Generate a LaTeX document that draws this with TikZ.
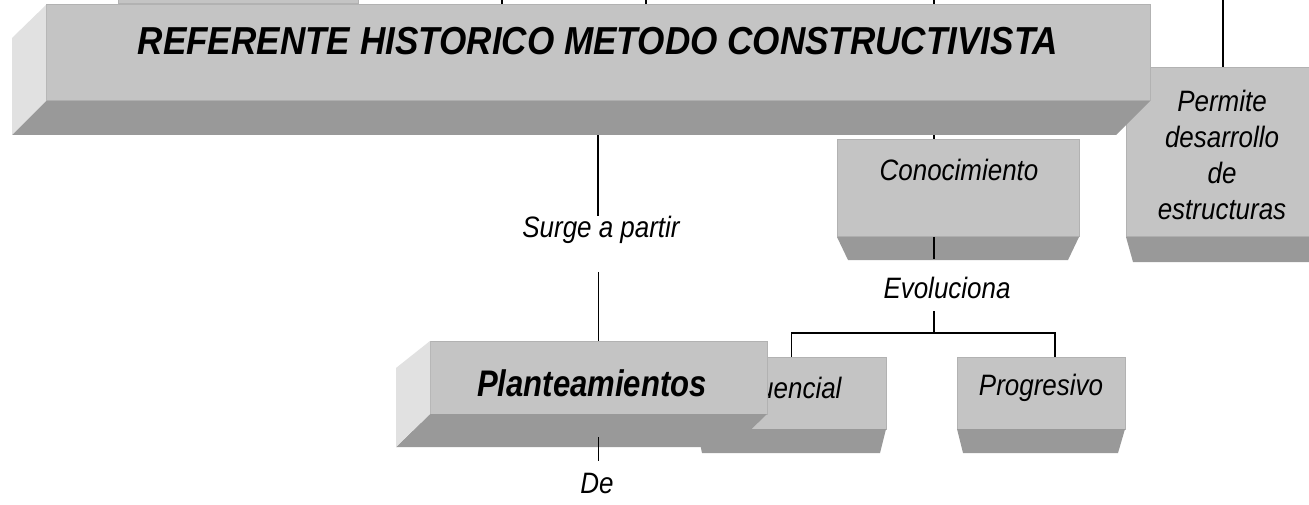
\documentclass[tikz,border=0pt]{standalone}
\usepackage{fontspec}
\setmainfont{Liberation Sans}
\newfontfamily\lblfont[FakeStretch=0.88]{Liberation Sans}
\newfontfamily\titlefont[FakeStretch=0.9]{Liberation Sans}
\newfontfamily\plantfont[FakeStretch=0.84]{Liberation Sans}
\usetikzlibrary{calc}
\pgfdeclarelayer{bg}
\pgfdeclarelayer{back}
\pgfsetlayers{bg,back,main}
\definecolor{facegray}{HTML}{C4C4C4}
\definecolor{sidegray}{HTML}{E1E1E1}
\definecolor{botgray}{HTML}{999999}
\definecolor{edgegray}{HTML}{B2B2B2}
\begin{document}
\begin{tikzpicture}[x=1pt,y=-1pt,
  face/.style={rectangle, fill=facegray, draw=edgegray, line width=1pt, inner sep=0pt, outer sep=0pt},
  lbl/.style={font=\lblfont\fontsize{29.5}{36}\selectfont\itshape, inner sep=0pt, align=center},
  conn/.style={draw=black, line width=1.5pt}]
\useasboundingbox (0,0) rectangle (1309,505);
\begin{pgfonlayer}{bg}
\fill[white] (0,0) rectangle (1309,505);
\end{pgfonlayer}

\coordinate (t1) at (502,0);
\coordinate (t2) at (646,0);
\coordinate (t3) at (934,0);
\coordinate (t4) at (1223,0);

% partial box at the top edge
\node[face, minimum width=240pt, minimum height=24pt] (topbox) at (238,-8) {};

% Permite box
\node[face, minimum width=204pt, minimum height=169pt] (perm) at (1228,152.5) {};
\fill[botgray] (perm.south west) -- (perm.south east) -- ++(-9,25) -- ($(perm.south west)+(7,25)$) -- cycle;
\node[lbl] (permt) at (1222,154.5) {Permite\\desarrollo\\de\\estructuras};

% main box
\node[face, minimum width=1104pt, minimum height=96pt] (main) at (598,53) {};
\fill[botgray] (main.south west) -- (main.south east) -- ++(-34,34) -- ($(main.south west)+(-34,34)$) -- cycle;
\fill[sidegray] (main.north west) -- (main.south west) -- ++(-34,34) -- ($(main.north west)+(-34,33)$) -- cycle;
\node[font=\titlefont\fontsize{39}{44}\selectfont\bfseries\itshape, inner sep=0pt] (title) at (598,41) {REFERENTE HISTORICO METODO CONSTRUCTIVISTA};

% Conocimiento box
\node[face, minimum width=242pt, minimum height=97pt] (conoc) at (958,188.5) {};
\fill[botgray] (conoc.south west) -- (conoc.south east) -- ++(-11,23) -- ($(conoc.south west)+(11,23)$) -- cycle;
\node[lbl] (conoct) at (959,170) {Conocimiento};

% labels
\node[lbl] (surge) at (601,230) {Surge a partir};
\node[lbl] (evo) at (947,288) {Evoluciona};
\node[lbl] (de) at (597,483) {De};

% Secuencial box
\node[face, minimum width=189pt, minimum height=72pt] (sec) at (791.5,393) {};
\fill[botgray] (sec.south west) -- (sec.south east) -- ++(-6,24) -- ($(sec.south west)+(5,24)$) -- cycle;
\node[lbl] (sect) at (778,388) {Secuencial};

% Planteamientos box
\node[face, minimum width=337pt, minimum height=73pt] (plant) at (598.5,377.5) {};
\fill[botgray] (plant.south west) -- (plant.south east) -- ++(-34,33) -- ($(plant.south west)+(-34,33)$) -- cycle;
\fill[sidegray] (plant.north west) -- (plant.south west) -- ++(-34,33) -- ($(plant.north west)+(-34,27)$) -- cycle;
\node[font=\plantfont\fontsize{37}{42}\selectfont\bfseries\itshape, inner sep=0pt] (plantt) at (592,383) {Planteamientos};

% Progresivo box
\node[face, minimum width=168pt, minimum height=72pt] (prog) at (1041,393) {};
\fill[botgray] (prog.south west) -- (prog.south east) -- ++(-7,24) -- ($(prog.south west)+(6,24)$) -- cycle;
\node[lbl] (progt) at (1041,388) {Progresivo};

% connectors behind the boxes
\begin{pgfonlayer}{back}
\draw[conn] (t1) -- (t1 |- main.north);
\draw[conn] (t2) -- (t2 |- main.north);
\draw[conn] (t3) -- (t3 |- conoc.north);
\draw[conn] (t4) -- (t4 |- perm.north);
\draw[conn] (main.south) -- (main.south |- surge.north);
\draw[conn, shorten <=28pt] (surge.south -| plant.north) -- (plant.north);
\end{pgfonlayer}

% connectors in front
\draw[conn, shorten <=23pt, shorten >=12pt] (plant.south) -- (plant.south |- de.north);
\draw[conn, shorten >=18pt] (conoc.south -| t3) -- (evo.north -| t3);
\coordinate (fork) at (934,333);
\draw[conn, shorten <=12pt] (evo.south -| t3) -- (fork);
\draw[conn] (fork) -| (sec.north);
\draw[conn] (fork) -| ([xshift=14pt]prog.north);
\end{tikzpicture}
\end{document}
